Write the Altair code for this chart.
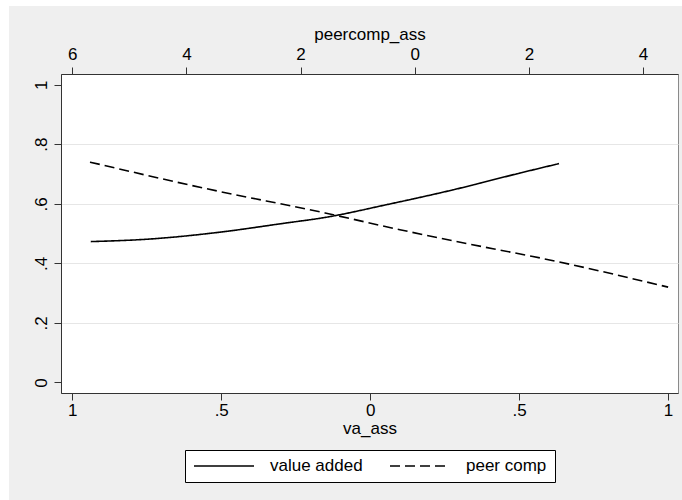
import altair as alt
import pandas as pd

# ---- data ----
va_ass = [-0.938, -0.734, -0.510, -0.286, -0.152, 0.055, 0.279, 0.502, 0.634]
va_prob = [0.473, 0.482, 0.504, 0.535, 0.554, 0.597, 0.647, 0.703, 0.735]
pc_ass = [5.69, 3.68, 1.57, 0.26, -1.37, -2.07, -4.44]
pc_prob = [0.740, 0.652, 0.569, 0.513, 0.449, 0.423, 0.320]
series_names = ["value added", "peer comp"]
y_ticks = [0, 0.2, 0.4, 0.6, 0.8, 1]
va_ticks = [-1, -0.5, 0, 0.5, 1]
pc_ticks = [6, 4, 2, 0, -2, -4]

FONT = "Liberation Sans"
FS = 17
W, H = 617, 319
AX = "#333333"

df_va = pd.DataFrame({"va_ass": va_ass, "prob": va_prob, "series": series_names[0]})
df_pc = pd.DataFrame({"peercomp_ass": pc_ass, "prob": pc_prob, "series": series_names[1]})

common_axis = dict(
    labelFont=FONT, labelFontSize=FS, labelColor="black",
    titleFont=FONT, titleFontSize=FS, titleColor="black", titleFontWeight="normal",
    domainColor=AX, tickColor=AX, tickSize=7, labelOverlap=False, labelFlush=False,
)

y_enc = alt.Y(
    "prob:Q",
    scale=alt.Scale(domain=[-0.0356, 1.036], nice=False, zero=False),
    axis=alt.Axis(
        values=y_ticks,
        labelExpr="replace(format(datum.value, '~g'), '0.', '.')",
        labelAngle=270, labelAlign="center", labelBaseline="bottom",
        labelPadding=4, title=None, grid=True, gridColor="#E6E6E6",
        gridOpacity={"condition": {"test": "datum.value <= 0 || datum.value >= 1", "value": 0}, "value": 1},
        **common_axis,
    ),
)

dash_enc = alt.StrokeDash(
    "series:N",
    scale=alt.Scale(domain=series_names, range=[[1, 0], [10, 5]]),
    legend=alt.Legend(
        orient="none", legendX=124, legendY=376, direction="horizontal", title=None,
        strokeColor="black", fillColor="white", padding=8, cornerRadius=0,
        symbolType="stroke", symbolSize=3600, symbolStrokeWidth=1.5,
        symbolStrokeColor="black", labelFont=FONT, labelFontSize=FS, labelColor="black",
        labelOffset=15, columnPadding=26, clipHeight=16,
    ),
)

line_va = alt.Chart(df_va).mark_line(color="black", strokeWidth=1.6, interpolate="monotone").encode(
    x=alt.X(
        "va_ass:Q",
        scale=alt.Scale(domain=[-1.038, 1.0336], nice=False, zero=False),
        axis=alt.Axis(
            values=va_ticks, orient="bottom", title="va_ass",
            labelExpr="replace(format(abs(datum.value), '~g'), '0.', '.')",
            labelPadding=2, titlePadding=2, grid=False, **common_axis,
        ),
    ),
    y=y_enc,
    strokeDash=dash_enc,
)

line_pc = alt.Chart(df_pc).mark_line(color="black", strokeWidth=1.6, interpolate="monotone").encode(
    x=alt.X(
        "peercomp_ass:Q",
        scale=alt.Scale(domain=[-4.613, 6.198], nice=False, zero=False, reverse=True),
        axis=alt.Axis(
            values=pc_ticks, orient="top", title="peercomp_ass",
            labelExpr="format(abs(datum.value), '~g')",
            labelPadding=4, titlePadding=2, grid=False, **common_axis,
        ),
    ),
    y=y_enc,
    strokeDash=dash_enc,
)

one = pd.DataFrame({"a": [0]})
margin_left = alt.Chart(one).mark_rect(color="white").encode(
    x=alt.value(-61), x2=alt.value(-52), y=alt.value(-74), y2=alt.value(426)
)
margin_top = alt.Chart(one).mark_rect(color="white").encode(
    x=alt.value(-61), x2=alt.value(621), y=alt.value(-74), y2=alt.value(-68)
)

chart = (
    alt.layer(line_va, line_pc, margin_left, margin_top)
    .resolve_scale(x="independent")
    .resolve_axis(x="independent")
    .properties(
        width=W, height=H,
        autosize=alt.AutoSizeParams(type="none"),
        padding={"left": 61, "top": 74, "right": 4, "bottom": 107},
    )
    .configure(background="#EFEFEF")
    .configure_view(fill="white", stroke="#8A8A8A", strokeWidth=1)
)

chart.save("out.html", embed_options={"renderer": "svg", "actions": False})
